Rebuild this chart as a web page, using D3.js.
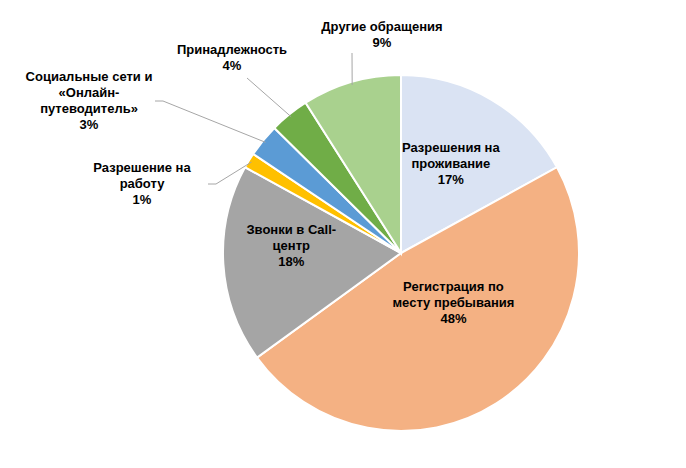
<!DOCTYPE html>
<html><head><meta charset="utf-8">
<script src="https://cdn.jsdelivr.net/npm/d3@7"></script>
<style>body{margin:0;background:#fff}text{font-family:"Liberation Sans",Arial,sans-serif;font-weight:bold;font-size:13px;fill:#000}</style>
</head><body><svg id="c" width="686" height="468"></svg>
<script>
const categories = ['Разрешения на проживание', 'Регистрация по месту пребывания', 'Звонки в Call-центр',
  'Разрешение на работу', 'Социальные сети и «Онлайн-путеводитель»', 'Принадлежность', 'Другие обращения'];
const values = [17, 48, 18, 1.4, 3, 3.6, 9];
const percentLabels = ['17%', '48%', '18%', '1%', '3%', '4%', '9%'];
const colors = ['#DAE3F3', '#F4B183', '#A5A5A5', '#FFC000', '#5B9BD5', '#70AD47', '#A9D18E'];
const labelLines = [
  ['Разрешения на', 'проживание'], ['Регистрация по', 'месту пребывания'], ['Звонки в Call-', 'центр'],
  ['Разрешение на', 'работу'], ['Социальные сети и', '«Онлайн-', 'путеводитель»'], ['Принадлежность'], ['Другие обращения']
];
// label layout: inside (offset from centroid) or outside (fixed anchor point)
const labelPos = [
  {inside: true, dx: 0, dy: -17}, {inside: true, dx: 0, dy: -45}, {inside: true, dx: -12, dy: -25},
  {x: 142, y: 172}, {x: 89, y: 81}, {x: 232, y: 54}, {x: 382, y: 31}
];
const cx = 401, cy = 253, R = 178;
const svg = d3.select('#c');
const pie = d3.pie().sort(null).value(d => d);
const arcs = pie(values);
const arc = d3.arc().innerRadius(0).outerRadius(R);
const g = svg.append('g').attr('transform', `translate(${cx},${cy})`);
g.selectAll('path').data(arcs).join('path').attr('d', arc)
  .attr('fill', (d, i) => colors[i]).attr('stroke', '#fff').attr('stroke-width', 2);

arcs.forEach((d, i) => {
  const p = labelPos[i];
  const lines = labelLines[i].concat([percentLabels[i]]);
  let x, y;
  if (p.inside) {
    const c = d3.arc().innerRadius(R * 0.55).outerRadius(R * 0.55).centroid(d);
    x = cx + c[0] + p.dx; y = cy + c[1] + p.dy;
  } else {
    x = p.x; y = p.y;
    const mid = (d.startAngle + d.endAngle) / 2;
    const ex = cx + Math.sin(mid) * (R - 3), ey = cy - Math.cos(mid) * (R - 3);
    const n = lines.length;
    const ly = y + (n - 1) * 16 / 2 - 4;
    const lx = x + 66;
    let pts = [[lx, ly], [lx + 8, ly], [ex, ey]];
    if (i === 6) pts = [[x - 30, y + 22], [ex, ey]];
    if (i === 5) pts = [[x + 15, y + 24], [ex, ey]];
    svg.append('polyline').attr('points', pts.map(q => q.join(',')).join(' '))
      .attr('fill', 'none').attr('stroke', '#A6A6A6').attr('stroke-width', 1);
  }
  const t = svg.append('text').attr('text-anchor', 'middle');
  lines.forEach((s, k) => t.append('tspan').attr('x', x).attr('y', y + k * 16).text(s));
});
</script></body></html>
